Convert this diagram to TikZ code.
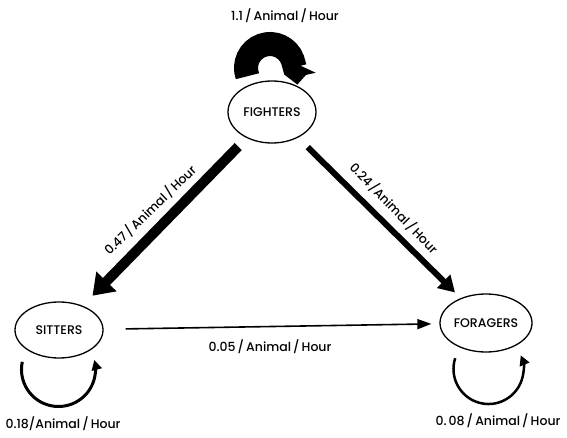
\documentclass[tikz,border=0pt]{standalone}
\usepackage{fontspec}
\setmainfont{Poppins}[UprightFont={* Medium}]
\usetikzlibrary{arrows.meta,shapes.geometric}
\begin{document}
\begin{tikzpicture}[x=1pt,y=1pt,
  state/.style={draw, ellipse, line width=1.3pt, inner sep=0pt, font=\fontsize{12.5}{14}\selectfont},
  rate/.style={font=\fontsize{12.5}{14}\selectfont, inner sep=1pt},
  flow/.style={line cap=butt}]
\useasboundingbox (0,0) rectangle (567,437);
\node[state, minimum width=88pt, minimum height=62pt] (F) at (272,325) {FIGHTERS};
\node[state, minimum width=88pt, minimum height=56pt] (S) at (59,107) {SITTERS};
\node[state, minimum width=92pt, minimum height=58pt] (R) at (486,114) {FORAGERS};
% transitions
\draw[flow, line width=10pt, -{Triangle[width=27pt,length=20pt]}, shorten <=12pt, shorten >=14pt] (F) -- (S);
\draw[flow, line width=6pt, -{Triangle[width=18pt,length=16pt]}, shorten <=13.5pt, shorten >=8pt] (F) -- (R);
\draw[flow, line width=1.6pt, -{Triangle[width=10pt,length=14pt]}, shorten <=22pt, shorten >=8pt] (S) -- (R);
% self loops
\draw[flow, line width=24pt, -{Triangle[width=38pt,length=15pt]}] ([shift={(-24.55,35.79)}]F.center) arc[start angle=200, end angle=-25, radius=24];
\draw[flow, line width=3pt, -{Triangle[width=10pt,length=10pt]}] ([shift={(-36.7,-31.8)}]S.center) arc[start angle=168, end angle=375, radius=37];
\draw[flow, line width=2.5pt, -{Triangle[width=10pt,length=10pt]}] ([shift={(-30.8,-35.2)}]R.center) arc[start angle=162, end angle=383, radius=35];
% labels
\node[rate] (lF) at (285,421) {1.1\,/\,Animal\,/\,Hour};
\node[rate] (lSR) at (270,90) {0.05\,/\,Animal\,/\,Hour};
\node[rate] (lS) at (63,13) {0.18/Animal\,/\,Hour};
\node[rate] (lR) at (498,16) {0.\,08\,/\,Animal\,/\,Hour};
\node[rate, rotate=44] (lFS) at (150,227) {0.47\,/\,Animal\,/\,Hour};
\node[rate, rotate=-46] (lFR) at (394,229) {0.24\,/Animal\,/\,Hour};
\end{tikzpicture}
\end{document}
